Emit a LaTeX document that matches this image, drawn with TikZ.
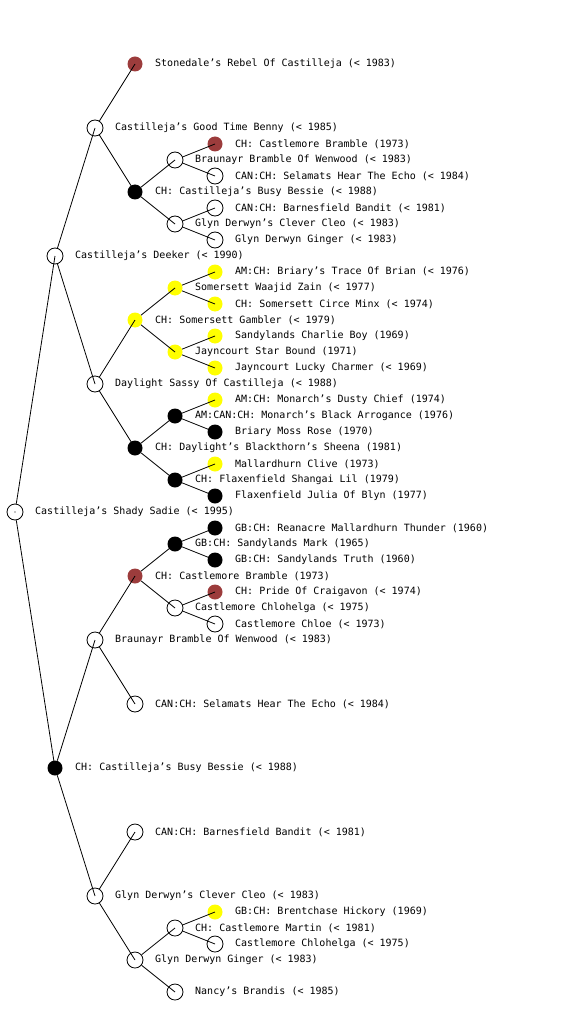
\documentclass[tikz,border=0pt]{standalone}
\usepackage{fontspec}
\setmonofont{DejaVu Sans Mono}
\definecolor{dogred}{HTML}{9C3C3C}
\definecolor{dogyel}{HTML}{FFFF00}
\tikzset{
  base/.style={circle, inner sep=0pt, minimum size=16pt},
  wn/.style={base, draw=black, line width=0.8pt},
  bn/.style={base, fill=black, minimum size=15pt},
  rn/.style={base, fill=dogred, minimum size=15pt},
  yn/.style={base, fill=dogyel, minimum size=15pt},
  lbl/.style={anchor=west, inner sep=0pt, font=\ttfamily\fontsize{10}{12}\selectfont},
  edge/.style={draw=black, line width=0.8pt}
}
\newcommand\pnode[5]{%
  \node[#2] (#1) at (#3,#4) {};
  \node[lbl] (#1t) at ({#3+20},#4) {#5};}
\begin{document}
\begin{tikzpicture}[x=1pt,y=-1pt]
\useasboundingbox (0,0) rectangle (560,1024);
% root
\pnode{r}{wn}{15}{512}{Castilleja’s Shady Sadie (< 1995)}
\fill (r.center) circle (0.6pt);
% level 1
\pnode{d}{wn}{55}{256}{Castilleja’s Deeker (< 1990)}
\pnode{e}{bn}{55}{768}{CH: Castilleja’s Busy Bessie (< 1988)}
% level 2
\pnode{a}{wn}{95}{128}{Castilleja’s Good Time Benny (< 1985)}
\pnode{b}{wn}{95}{384}{Daylight Sassy Of Castilleja (< 1988)}
\pnode{c}{wn}{95}{640}{Braunayr Bramble Of Wenwood (< 1983)}
\pnode{g}{wn}{95}{896}{Glyn Derwyn’s Clever Cleo (< 1983)}
% level 3
\pnode{a1}{rn}{135}{64}{Stonedale’s Rebel Of Castilleja (< 1983)}
\pnode{a2}{bn}{135}{192}{CH: Castilleja’s Busy Bessie (< 1988)}
\pnode{b1}{yn}{135}{320}{CH: Somersett Gambler (< 1979)}
\pnode{b2}{bn}{135}{448}{CH: Daylight’s Blackthorn’s Sheena (1981)}
\pnode{c1}{rn}{135}{576}{CH: Castlemore Bramble (1973)}
\pnode{c2}{wn}{135}{704}{CAN:CH: Selamats Hear The Echo (< 1984)}
\pnode{g1}{wn}{135}{832}{CAN:CH: Barnesfield Bandit (< 1981)}
\pnode{g2}{wn}{135}{960}{Glyn Derwyn Ginger (< 1983)}
% level 4
\pnode{a21}{wn}{175}{160}{Braunayr Bramble Of Wenwood (< 1983)}
\pnode{a22}{wn}{175}{224}{Glyn Derwyn’s Clever Cleo (< 1983)}
\pnode{b11}{yn}{175}{288}{Somersett Waajid Zain (< 1977)}
\pnode{b12}{yn}{175}{352}{Jayncourt Star Bound (1971)}
\pnode{b21}{bn}{175}{416}{AM:CAN:CH: Monarch’s Black Arrogance (1976)}
\pnode{b22}{bn}{175}{480}{CH: Flaxenfield Shangai Lil (1979)}
\pnode{c11}{bn}{175}{544}{GB:CH: Sandylands Mark (1965)}
\pnode{c12}{wn}{175}{608}{Castlemore Chlohelga (< 1975)}
\pnode{g21}{wn}{175}{928}{CH: Castlemore Martin (< 1981)}
\pnode{g22}{wn}{175}{992}{Nancy’s Brandis (< 1985)}
% level 5
\pnode{a211}{rn}{215}{144}{CH: Castlemore Bramble (1973)}
\pnode{a212}{wn}{215}{176}{CAN:CH: Selamats Hear The Echo (< 1984)}
\pnode{a221}{wn}{215}{208}{CAN:CH: Barnesfield Bandit (< 1981)}
\pnode{a222}{wn}{215}{240}{Glyn Derwyn Ginger (< 1983)}
\pnode{b111}{yn}{215}{272}{AM:CH: Briary’s Trace Of Brian (< 1976)}
\pnode{b112}{yn}{215}{304}{CH: Somersett Circe Minx (< 1974)}
\pnode{b121}{yn}{215}{336}{Sandylands Charlie Boy (1969)}
\pnode{b122}{yn}{215}{368}{Jayncourt Lucky Charmer (< 1969)}
\pnode{b211}{yn}{215}{400}{AM:CH: Monarch’s Dusty Chief (1974)}
\pnode{b212}{bn}{215}{432}{Briary Moss Rose (1970)}
\pnode{b221}{yn}{215}{464}{Mallardhurn Clive (1973)}
\pnode{b222}{bn}{215}{496}{Flaxenfield Julia Of Blyn (1977)}
\pnode{c111}{bn}{215}{528}{GB:CH: Reanacre Mallardhurn Thunder (1960)}
\pnode{c112}{bn}{215}{560}{GB:CH: Sandylands Truth (1960)}
\pnode{c121}{rn}{215}{592}{CH: Pride Of Craigavon (< 1974)}
\pnode{c122}{wn}{215}{624}{Castlemore Chloe (< 1973)}
\pnode{g211}{yn}{215}{912}{GB:CH: Brentchase Hickory (1969)}
\pnode{g212}{wn}{215}{944}{Castlemore Chlohelga (< 1975)}
% edges
\foreach \p/\q in {r/d, r/e, d/a, d/b, e/c, e/g,
  a/a1, a/a2, b/b1, b/b2, c/c1, c/c2, g/g1, g/g2,
  a2/a21, a2/a22, b1/b11, b1/b12, b2/b21, b2/b22, c1/c11, c1/c12, g2/g21, g2/g22,
  a21/a211, a21/a212, a22/a221, a22/a222, b11/b111, b11/b112, b12/b121, b12/b122,
  b21/b211, b21/b212, b22/b221, b22/b222, c11/c111, c11/c112, c12/c121, c12/c122,
  g21/g211, g21/g212}
  \draw[edge] (\p) -- (\q.center);
\end{tikzpicture}
\end{document}
